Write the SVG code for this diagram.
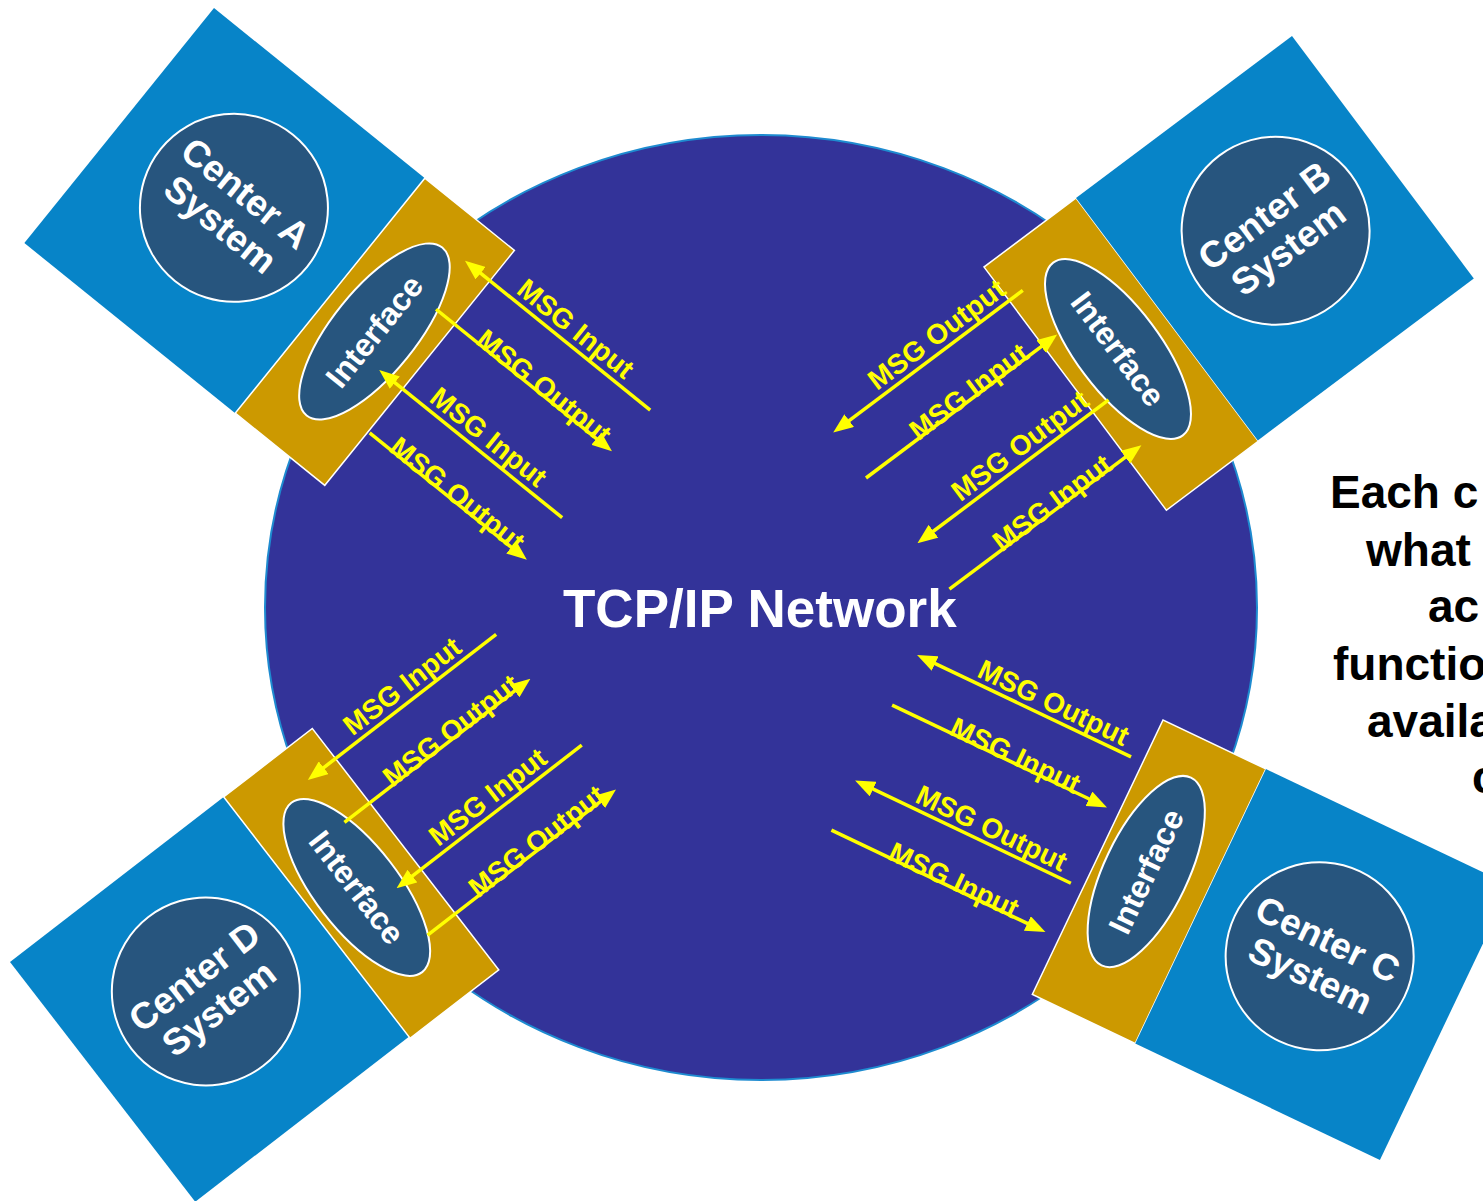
<svg xmlns="http://www.w3.org/2000/svg" width="1483" height="1201" viewBox="0 0 1483 1201">
<defs>
<marker id="ah" markerUnits="userSpaceOnUse" markerWidth="20" markerHeight="16" refX="8" refY="8" orient="auto">
<path d="M0,0 L20,8 L0,16 z" fill="#FFFF00"/>
</marker>
<style>
.blue{fill:#0784C8}
.gold{fill:#CC9900;stroke:#FFFFFF;stroke-width:1.5}
.disc{fill:#27557E;stroke:#FFFFFF;stroke-width:2}
.ctext{font-family:"Liberation Sans",Arial,sans-serif;font-weight:bold;font-size:37px;fill:#FFFFFF;text-anchor:middle}
.itext{font-family:"Liberation Sans",Arial,sans-serif;font-weight:bold;font-size:32px;fill:#FFFFFF;text-anchor:middle}
.arr{stroke:#FFFF00;stroke-width:3.5;fill:none;marker-end:url(#ah)}
.lbl{font-family:"Liberation Sans",Arial,sans-serif;font-weight:bold;font-size:28px;fill:#FFFF00}
.side{font-family:"Liberation Sans",Arial,sans-serif;font-weight:bold;font-size:46px;fill:#000000}
</style>
</defs>
<rect width="1483" height="1201" fill="#FFFFFF"/>

<g id="network">
<ellipse cx="761" cy="607.5" rx="496" ry="472.5" fill="#333399" stroke="#1E8BD0" stroke-width="2"/>
<text x="563" y="627" font-family="'Liberation Sans',Arial,sans-serif" font-weight="bold" font-size="53" fill="#FFFFFF">TCP/IP Network</text>
</g>

<g id="centerA" transform="translate(214,8) rotate(38.9)">
<rect class="blue" x="0" y="0" width="271" height="302"/>
<rect class="gold" x="271" y="0" width="115" height="302"/>
<circle class="disc" cx="141" cy="143" r="94"/>
<text class="ctext" x="141" y="137">Center A</text>
<text class="ctext" x="141" y="177">System</text>
<ellipse class="disc" cx="328" cy="151" rx="42" ry="108"/>
<text class="itext" transform="translate(328,151) rotate(-90)" x="0" y="11">Interface</text>
</g>

<g id="centerB" transform="translate(984,267) rotate(-36.87)">
<rect class="gold" x="0" y="0" width="115" height="304"/>
<rect class="blue" x="115" y="0" width="270" height="303"/>
<circle class="disc" cx="255" cy="146" r="94"/>
<text class="ctext" x="255" y="140">Center B</text>
<text class="ctext" x="255" y="180">System</text>
<ellipse class="disc" cx="58" cy="146" rx="42" ry="108"/>
<text class="itext" transform="translate(58,146) rotate(90)" x="0" y="11">Interface</text>
</g>

<g id="centerC" transform="translate(1163,720) rotate(25.46)">
<rect class="gold" x="0" y="0" width="114" height="304"/>
<rect class="blue" x="114" y="0" width="271" height="304"/>
<circle class="disc" cx="243" cy="146" r="94"/>
<text class="ctext" x="243" y="140">Center C</text>
<text class="ctext" x="243" y="180">System</text>
<ellipse class="disc" cx="50" cy="144" rx="42" ry="104"/>
<text class="itext" transform="translate(50,144) rotate(-90)" x="0" y="11">Interface</text>
</g>

<g id="centerD" transform="translate(10,962) rotate(-37.69)">
<rect class="blue" x="0" y="0" width="270" height="303"/>
<rect class="gold" x="270" y="0" width="112" height="305"/>
<circle class="disc" cx="137" cy="143" r="94"/>
<text class="ctext" x="137" y="137">Center D</text>
<text class="ctext" x="137" y="177">System</text>
<ellipse class="disc" cx="320" cy="153" rx="42" ry="107"/>
<text class="itext" transform="translate(320,153) rotate(90)" x="0" y="11">Interface</text>
</g>

<g id="connectors">
<g id="arrowsA" transform="translate(214,8) rotate(38.9)">
<line class="arr" x1="592" y1="39" x2="366" y2="39"/>
<text class="lbl" x="413" y="32">MSG Input</text>
<line class="arr" x1="362" y1="95" x2="576" y2="95"/>
<text class="lbl" x="413" y="97">MSG Output</text>
<line class="arr" x1="591" y1="178" x2="368" y2="178"/>
<text class="lbl" x="413" y="171">MSG Input</text>
<line class="arr" x1="388" y1="233" x2="578" y2="233"/>
<text class="lbl" x="413" y="235">MSG Output</text>
</g>
<g id="arrowsB" transform="translate(984,267) rotate(-36.87)">
<line class="arr" x1="17" y1="42" x2="-208" y2="42"/>
<text class="lbl" x="-160" y="35">MSG Output</text>
<line class="arr" x1="-221" y1="98" x2="6" y2="98"/>
<text class="lbl" x="-157" y="100">MSG Input</text>
<line class="arr" x1="20" y1="181" x2="-207" y2="181"/>
<text class="lbl" x="-160" y="174">MSG Output</text>
<line class="arr" x1="-221" y1="237" x2="7" y2="237"/>
<text class="lbl" x="-157" y="239">MSG Input</text>
</g>
<g id="arrowsC" transform="translate(1163,720) rotate(25.46)">
<line class="arr" x1="-13" y1="47" x2="-238" y2="47"/>
<text class="lbl" x="-188" y="41">MSG Output</text>
<line class="arr" x1="-251" y1="103" x2="-25" y2="103"/>
<text class="lbl" x="-188" y="105">MSG Input</text>
<line class="arr" x1="-13" y1="187" x2="-240" y2="187"/>
<text class="lbl" x="-190" y="181">MSG Output</text>
<line class="arr" x1="-252" y1="242" x2="-27" y2="242"/>
<text class="lbl" x="-190" y="244">MSG Input</text>
</g>
<g id="arrowsD" transform="translate(10,962) rotate(-37.69)">
<line class="arr" x1="585" y1="38" x2="359" y2="38"/>
<text class="lbl" x="409" y="31">MSG Input</text>
<line class="arr" x1="350" y1="94" x2="573" y2="94"/>
<text class="lbl" x="409" y="96">MSG Output</text>
<line class="arr" x1="585" y1="178" x2="363" y2="178"/>
<text class="lbl" x="409" y="171">MSG Input</text>
<line class="arr" x1="347" y1="234" x2="573" y2="234"/>
<text class="lbl" x="409" y="236">MSG Output</text>
</g>
</g>

<g id="note">
<text class="side" x="1330" y="508">Each c</text>
<text class="side" x="1366" y="566">what</text>
<text class="side" x="1428" y="622">ac</text>
<text class="side" x="1333" y="680">functio</text>
<text class="side" x="1367" y="737">availa</text>
<text class="side" x="1472" y="793">c</text>
</g>
</svg>
